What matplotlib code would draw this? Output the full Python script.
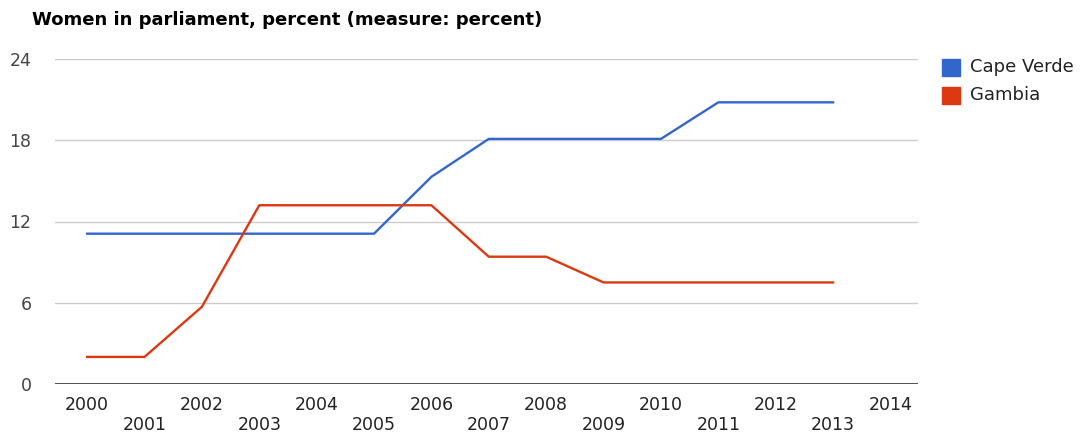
import matplotlib.pyplot as plt
from matplotlib.patches import Rectangle

years = [2000, 2001, 2002, 2003, 2004, 2005, 2006, 2007, 2008, 2009, 2010, 2011, 2012, 2013]
cape_verde = [11.1, 11.1, 11.1, 11.1, 11.1, 11.1, 15.3, 18.1, 18.1, 18.1, 18.1, 20.8, 20.8, 20.8]
gambia = [2.0, 2.0, 5.7, 13.2, 13.2, 13.2, 13.2, 9.4, 9.4, 7.5, 7.5, 7.5, 7.5, 7.5]
tick_years = list(range(2000, 2015))
y_ticks = [0, 6, 12, 18, 24]

blue = '#3366cc'
red = '#dc3912'

plt.rcParams['font.family'] = ['DejaVu Sans']

fig = plt.figure(figsize=(10.87, 4.32), dpi=100)
ax = fig.add_axes([55 / 1087, 1 - 384 / 432, (918 - 55) / 1087, (384 - 59) / 432])

ax.plot(years, cape_verde, color=blue, lw=1.7, zorder=3)
ax.plot(years, gambia, color=red, lw=1.7, zorder=3)

ax.set_xlim(1999.44, 2014.48)
ax.set_ylim(0, 24)
ax.set_yticks(y_ticks)
ax.set_yticklabels([str(v) for v in y_ticks], fontsize=12.5, color='#444444')
ax.tick_params(axis='y', length=0, pad=17)
ax.set_xticks([])

for v in y_ticks[1:]:
    ax.axhline(v, color='#cccccc', lw=1, zorder=1)
ax.axhline(0, color='#333333', lw=1.2, zorder=2)

for s in ax.spines.values():
    s.set_visible(False)

# year labels on two staggered rows
for y in tick_years:
    row = 0 if y % 2 == 0 else 1
    ax.annotate(str(y), xy=(y, 0), xycoords=('data', 'axes fraction'),
                xytext=(0, -26 - row * 20), textcoords='offset pixels',
                ha='center', va='baseline', fontsize=12.5, color='#222222')

fig.text(32 / 1087, 1 - 20 / 432, 'Women in parliament, percent (measure: percent)',
         fontsize=13, fontweight='bold', ha='left', va='center', color='#000000')

# legend
for i, (name, col) in enumerate([('Cape Verde', blue), ('Gambia', red)]):
    yc = 67 + i * 28
    fig.patches.append(Rectangle((942 / 1087, 1 - (yc + 9) / 432), 18 / 1087, 17 / 432,
                                 transform=fig.transFigure, color=col, figure=fig))
    fig.text(970 / 1087, 1 - yc / 432, name, fontsize=13, ha='left', va='center',
             color='#222222')

fig.savefig('out.png', dpi=100)
